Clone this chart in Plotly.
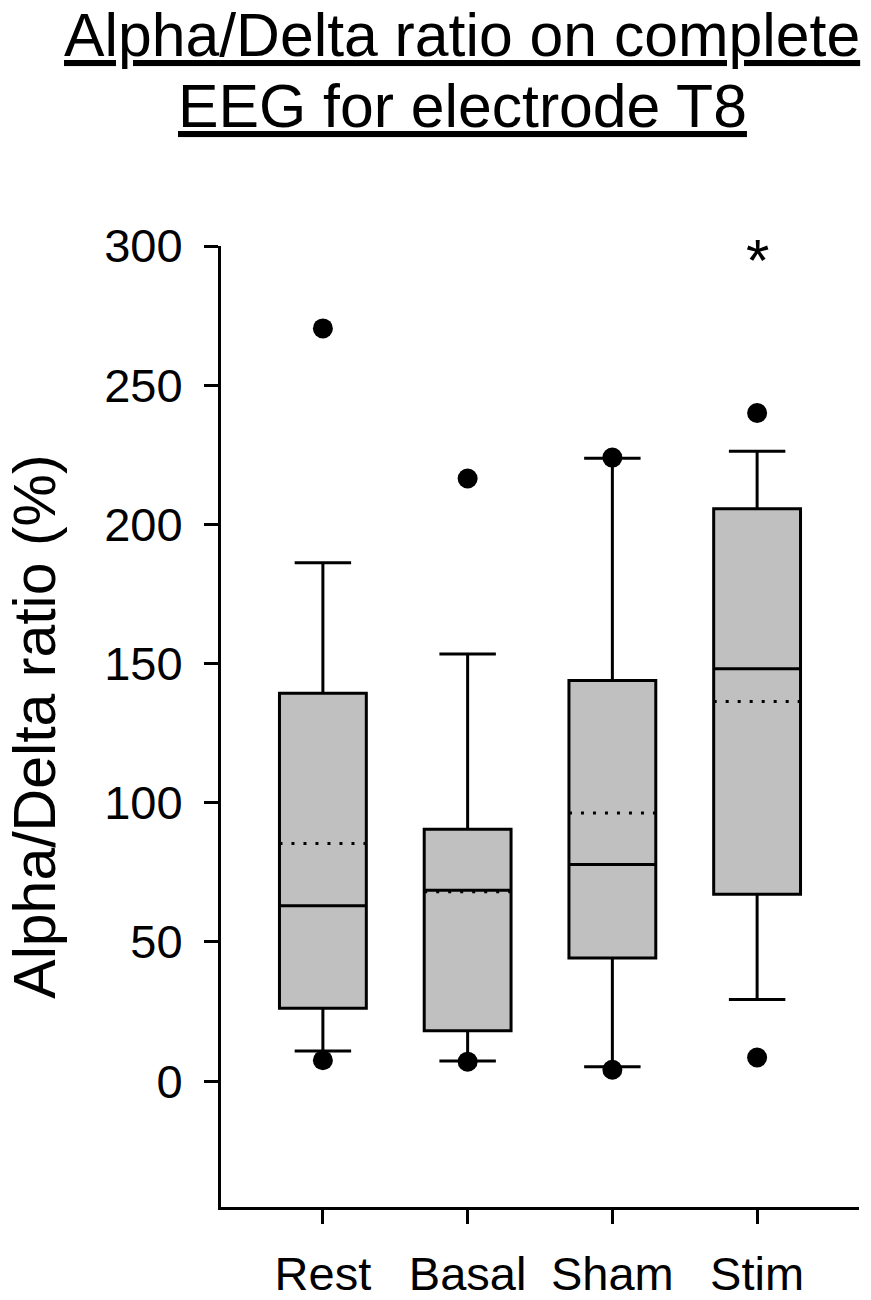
import plotly.graph_objects as go

# group names and box statistics (%)
groups = ["Rest", "Basal", "Sham", "Stim"]
q1 = [26.2, 18.1, 44.2, 67.1]
medians = [63.0, 68.6, 77.8, 148.1]
q3 = [139.3, 90.5, 143.9, 205.6]
lower_whisker = [10.8, 7.2, 5.2, 29.3]
upper_whisker = [186.2, 153.4, 223.8, 226.3]
means = [85.4, 68.0, 96.3, 136.4]
outliers_high = [270.4, 216.5, 224.0, 240.0]
outliers_low = [7.5, 7.0, 4.1, 8.5]
y_ticks = [0, 50, 100, 150, 200, 250, 300]
star_group = 3
star_y = 297.6

FONT = "Liberation Sans, Arial, sans-serif"
BOX_W = 0.6
pos = list(range(len(groups)))

fig = go.Figure()

fig.add_trace(go.Box(
    x=pos,
    q1=q1,
    median=medians,
    q3=q3,
    lowerfence=lower_whisker,
    upperfence=upper_whisker,
    boxpoints=False,
    width=BOX_W,
    whiskerwidth=0.65,
    fillcolor="#c0c0c0",
    line=dict(color="black", width=3),
    showlegend=False,
    hoverinfo="skip",
))

# dotted mean line across each box
mx, my = [], []
for p, m in zip(pos, means):
    mx += [p - BOX_W / 2, p + BOX_W / 2, None]
    my += [m, m, None]
fig.add_trace(go.Scatter(
    x=mx, y=my, mode="lines",
    line=dict(color="black", width=3, dash="3px,9px"),
    showlegend=False, hoverinfo="skip",
))

# outliers
fig.add_trace(go.Scatter(
    x=pos + pos,
    y=outliers_high + outliers_low,
    mode="markers",
    marker=dict(color="black", size=20),
    showlegend=False,
))

fig.add_annotation(
    x=star_group, y=star_y, text="*", showarrow=False,
    font=dict(family=FONT, size=60, color="black"),
    yshift=-8,
)

fig.add_annotation(
    x=0.3779, y=1.2216, xref="paper", yref="paper",
    text="<u>Alpha/Delta ratio on complete</u>", showarrow=False,
    xanchor="center", yanchor="middle", yshift=-2,
    font=dict(family=FONT, size=60.7, color="black"),
)
fig.add_annotation(
    x=0.3779, y=1.1455, xref="paper", yref="paper",
    text="<u>EEG for electrode T8</u>", showarrow=False,
    xanchor="center", yanchor="middle",
    font=dict(family=FONT, size=60.7, color="black"),
)

fig.update_xaxes(
    range=[-0.704, 3.704],
    tickvals=pos, ticktext=groups,
    ticks="outside", ticklen=14, tickwidth=3, tickcolor="black",
    ticklabelstandoff=10,
    showline=True, linewidth=3, linecolor="black",
    showgrid=False, zeroline=False, automargin=False,
    tickfont=dict(family=FONT, size=47, color="black"),
)
fig.update_yaxes(
    range=[-45.2, 300],
    tickvals=y_ticks,
    ticks="outside", ticklen=14, tickwidth=3, tickcolor="black",
    ticklabelstandoff=12,
    showline=True, linewidth=3, linecolor="black",
    showgrid=False, zeroline=False, automargin=False,
    tickfont=dict(family=FONT, size=47, color="black"),
    title=dict(text="Alpha/Delta ratio (%)", standoff=30,
               font=dict(family=FONT, size=59, color="black")),
)

fig.update_layout(
    width=871, height=1300,
    margin=dict(l=221, r=12, t=246, b=93, pad=0),
    paper_bgcolor="white", plot_bgcolor="white",
    font=dict(family=FONT, color="black"),
)

# drop the default page margin so the figure sits at the window's corner
fig.write_html(
    "out.html",
    config={"displayModeBar": False},
    post_script="document.body.style.margin='0';",
)
